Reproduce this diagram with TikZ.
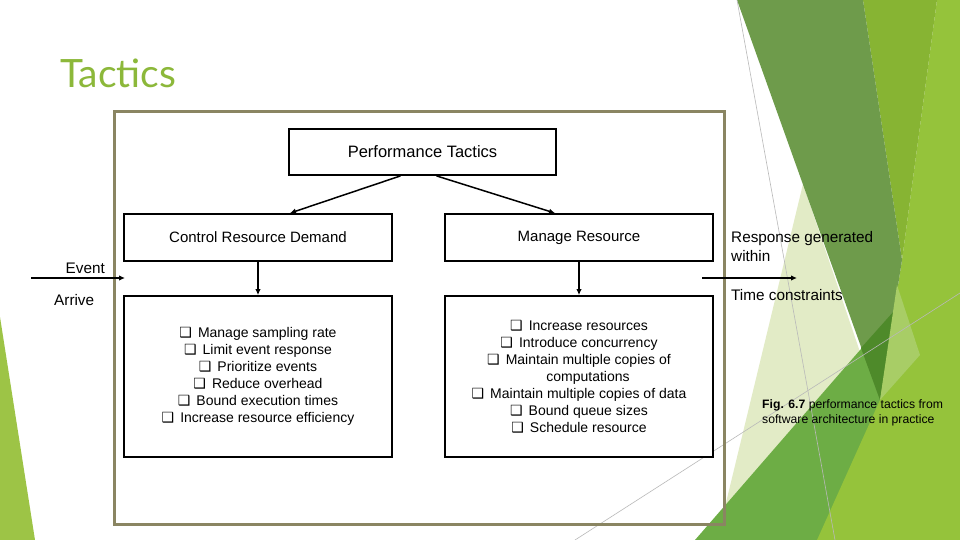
\documentclass[tikz,border=0pt]{standalone}
\usepackage{fontspec}
\setmainfont{Liberation Sans}
\newfontfamily\glyphfont{DejaVu Sans}
\newfontfamily\headfont{Lato}
\usetikzlibrary{arrows.meta}
\definecolor{framecol}{HTML}{8A8562}
\definecolor{titlegreen}{HTML}{8CB83A}
\definecolor{palegreen}{HTML}{E2EBC6}
\definecolor{midgreen}{HTML}{6DAD45}
\definecolor{limegreen}{HTML}{95C33B}
\definecolor{olivegreen}{HTML}{87B433}
\definecolor{darkband}{HTML}{6E9B4B}
\definecolor{darkspot}{HTML}{4E8A2A}
\definecolor{lightwedge}{HTML}{A8CD66}
\definecolor{sliver}{HTML}{9DC446}
\newcommand{\qbox}{{\glyphfont\fontsize{14}{17}\selectfont ❑}\hspace{6pt}}
\tikzset{
  tacbox/.style={draw, line width=1.8pt, fill=white, minimum width=268pt, minimum height=47pt, inner sep=0pt, font=\fontsize{15}{18}\selectfont},
  listbox/.style={tacbox, minimum height=161pt, align=center, font=\fontsize{14}{17}\selectfont},
  tacarrow/.style={line width=1.5pt, -{Latex[length=6pt,width=5.5pt]}},
  sidetext/.style={inner sep=0pt, font=\fontsize{15.3}{19}\selectfont},
  facetline/.style={draw=gray!55, line width=0.6pt}
}
\begin{document}
\begin{tikzpicture}[x=1pt,y=-1pt]
\useasboundingbox (0,0) rectangle (960,540);
\fill[white] (0,0) rectangle (960,540);
\fill[sliver] (0,317) -- (35,540) -- (0,540) -- cycle;
\fill[palegreen] (803,184) -- (900,470) -- (717,540) -- cycle;
\fill[midgreen] (695,540) -- (960,235) -- (960,540) -- cycle;
\fill[limegreen] (937,0) -- (960,0) -- (960,540) -- (817,540) -- (880,400) -- (902,260) -- cycle;
\fill[olivegreen] (863,0) -- (937,0) -- (902,260) -- cycle;
\fill[darkband] (737,0) -- (863,0) -- (902,260) -- (880,400) -- cycle;
\fill[darkspot] (861,348) -- (894,311) -- (880,400) -- cycle;
\fill[lightwedge] (897,285) -- (920,355) -- (880,400) -- cycle;
\draw[facetline] (737,0) -- (835,540);
\draw[facetline] (575,540) -- (960,293);
\draw[framecol, line width=3pt] (114,112) rectangle (724,524);

\node[anchor=west, inner sep=0pt, text=titlegreen, font=\headfont\fontsize{39}{42}\selectfont] (title) at (60,73) {Tactics};

\node[tacbox, minimum width=267pt, minimum height=46pt, font=\fontsize{16.5}{20}\selectfont] (perf) at (422.5,152) {Performance Tactics};
\node[tacbox] (crd) at (258,237.5) {Control Resource Demand};
\node[tacbox] (mr) at (579,237.5) {Manage Resource};
\node[listbox] (demandlist) at (258,376.5) {\qbox Manage sampling rate\\\qbox Limit event response\\\qbox Prioritize events\\\qbox Reduce overhead\\\qbox Bound execution times\\\qbox Increase resource efficiency};
\node[listbox] (resourcelist) at (579,376.5) {\qbox Increase resources\\\qbox Introduce concurrency\\\qbox Maintain multiple copies of\\\hspace{18pt}computations\\\qbox Maintain multiple copies of data\\\qbox Bound queue sizes\\\qbox Schedule resource};

\draw[tacarrow] ([xshift=-22pt]perf.south) -- ([xshift=32pt]crd.north);
\draw[tacarrow] ([xshift=14pt]perf.south) -- ([xshift=-24pt]mr.north);
\draw[tacarrow] (crd) -- (demandlist);
\draw[tacarrow] (mr) -- (resourcelist);

\coordinate (evstart) at (31,278);
\coordinate (evend) at (125,278);
\draw[tacarrow] (evstart) -- (evend);
\node[sidetext, anchor=east] (event) at (105,268) {Event};
\node[sidetext, anchor=west] (arrive) at (54,300) {Arrive};

\coordinate (respstart) at (702,278);
\coordinate (respend) at (797,278);
\draw[tacarrow] (respstart) -- (respend);
\node[sidetext, anchor=west, align=left] (response) at (731,247) {Response generated\\within};
\node[sidetext, anchor=west] (timelimit) at (731,295) {Time constraints};

\node[anchor=west, align=left, inner sep=0pt, font=\fontsize{12.2}{14.5}\selectfont] (caption) at (762,413) {\textbf{Fig. 6.7} performance tactics from\\software architecture in practice};
\end{tikzpicture}
\end{document}
